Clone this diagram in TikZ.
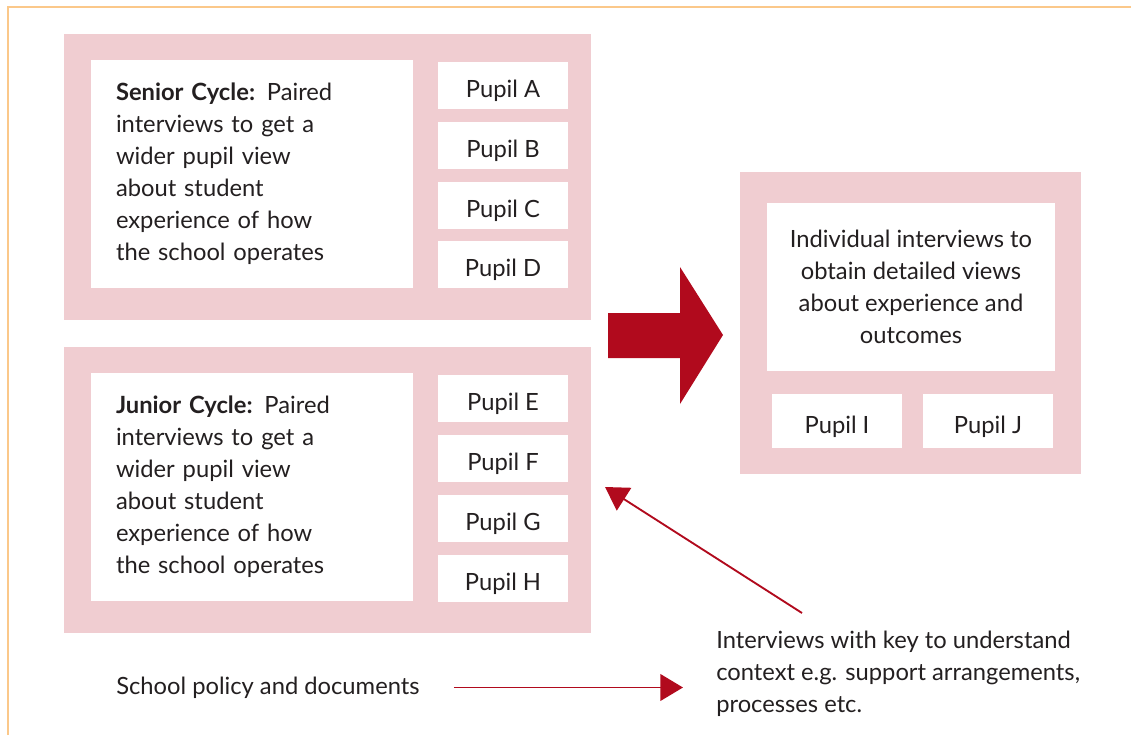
\documentclass[tikz,border=0pt]{standalone}
\usepackage{fontspec}
\setmainfont{Lato}
\usetikzlibrary{arrows.meta}
\definecolor{boxpink}{HTML}{F0CDD1}
\definecolor{arrowred}{HTML}{B10A1D}
\definecolor{frameorange}{HTML}{FBC88A}
\definecolor{textgrey}{HTML}{231F20}
\tikzset{
  sized/.style 2 args={minimum width=#1*0.75pt, minimum height=#2*0.75pt},
  pinkbox/.style={fill=boxpink, inner sep=0pt},
  whitebox/.style={fill=white, inner sep=0pt, text=textgrey},
  pupil/.style={whitebox, sized={130}{47}, text height=18pt, text depth=0pt},
  label/.style={inner sep=0pt, text=textgrey, align=left},
  redarrow/.style={draw=arrowred, line width=1.4pt, -{Triangle[length=17pt,width=20pt]}}
}
\begin{document}
\begin{tikzpicture}[x=0.75pt,y=-0.75pt,font=\fontsize{17.8}{24}\selectfont]
\useasboundingbox (0,0) rectangle (1131,735);

% Frame
\draw[frameorange, line width=1.1pt] (8,735) -- (8,7) -- (1131,7);

% Senior cycle
\node[pinkbox, sized={527}{286}] (seniorbg) at (327.5,177) {};
\node[whitebox, sized={322}{228}, text width=272*0.75pt, align=left] (senior) at (252,174)
  {\textbf{Senior Cycle:} Paired\\ interviews to get a\\ wider pupil view\\ about student\\ experience of how\\ the school operates};
\node[pupil] (pA) at (503,85.5) {Pupil A};
\node[pupil] (pB) at (503,145.5) {Pupil B};
\node[pupil] (pC) at (503,205.5) {Pupil C};
\node[pupil] (pD) at (503,264.5) {Pupil D};

% Junior cycle
\node[pinkbox, sized={527}{286}] (juniorbg) at (327.5,490) {};
\node[whitebox, sized={322}{228}, text width=272*0.75pt, align=left] (junior) at (252,487)
  {\textbf{Junior Cycle:} Paired\\ interviews to get a\\ wider pupil view\\ about student\\ experience of how\\ the school operates};
\node[pupil] (pE) at (503,398) {Pupil E};
\node[pupil] (pF) at (503,458) {Pupil F};
\node[pupil] (pG) at (503,518) {Pupil G};
\node[pupil] (pH) at (503,578) {Pupil H};

% Individual interviews
\node[pinkbox, sized={341}{302}] (indivbg) at (910.5,323) {};
\node[whitebox, sized={288}{168}, align=center] (indiv) at (911,287)
  {Individual interviews to\\ obtain detailed views\\ about experience and\\ outcomes};
\node[pupil, sized={130}{54}] (pI) at (837,421) {Pupil I};
\node[pupil, sized={130}{54}] (pJ) at (988,421) {Pupil J};

% Big arrow
\fill[arrowred] (608,313) -- (680,313) -- (680,267) -- (723,335)
  -- (680,404) -- (680,358) -- (608,358) -- cycle;

% Bottom labels
\node[label, anchor=west] (policy) at (116,687.5) {School policy and documents};
\node[label, anchor=west] (key) at (716,674)
  {Interviews with key to understand\\ context e.g. support arrangements,\\ processes etc.};

% Arrows
\coordinate (keystart) at (802,613);
\coordinate (juniortip) at (605,487);
\draw[redarrow] (keystart) -- (juniortip);
\draw[redarrow, shorten <=25.5pt, shorten >=24.75pt] (policy.east) -- (policy.east -| key.west);
\end{tikzpicture}
\end{document}
